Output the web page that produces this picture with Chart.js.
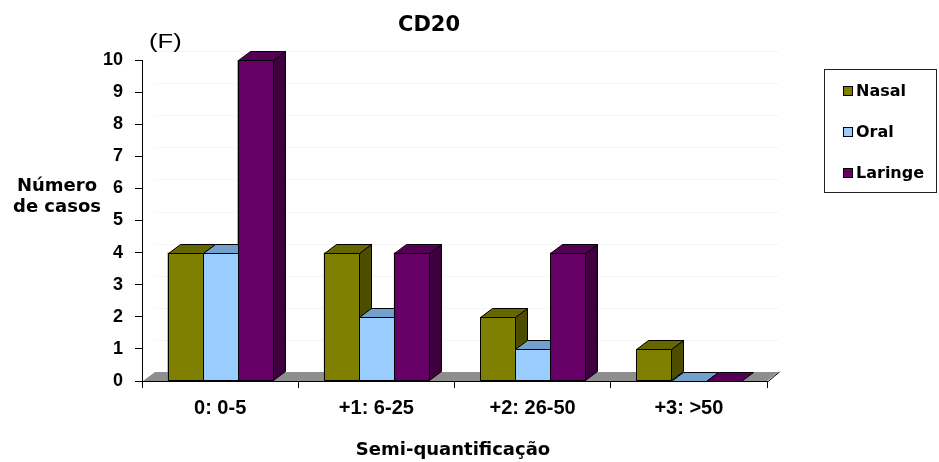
<!DOCTYPE html>
<html>
<head>
<meta charset="utf-8">
<script src="https://cdn.jsdelivr.net/npm/chart.js@4/dist/chart.umd.min.js"></script>
<style>
  html, body { margin: 0; padding: 0; background: #fff; }
  #wrap { width: 939px; height: 462px; }
</style>
</head>
<body>
<div id="wrap"><canvas id="c" width="939" height="462"></canvas></div>
<script>
// Semi-quantification categories and case counts per site
const categories = ['0: 0-5', '+1: 6-25', '+2: 26-50', '+3: >50'];
const nasal   = [4, 4, 2, 1];
const oral    = [4, 2, 1, 0];
const laringe = [10, 4, 4, 0];
const yTicks  = [0, 1, 2, 3, 4, 5, 6, 7, 8, 9, 10];

// Face colours for the pseudo-3D bars: front, top, side
const palette = {
  Nasal:   { front: '#808000', top: '#676700', side: '#4d4d00' },
  Oral:    { front: '#99ccff', top: '#73a0cc', side: '#6b95bf' },
  Laringe: { front: '#660066', top: '#540054', side: '#3d003d' }
};
const DX = 12, DY = 9; // depth offset of the 3D faces

const bar3d = {
  id: 'bar3d',
  beforeDatasetsDraw(chart) {
    const { ctx, chartArea: a, scales } = chart;
    ctx.save();
    // faint gridlines on the back wall
    ctx.strokeStyle = '#f6f6f6';
    ctx.lineWidth = 1;
    yTicks.forEach(v => {
      if (v === 0) return;
      const y = Math.round(scales.y.getPixelForValue(v)) - DY + 0.5;
      ctx.beginPath();
      ctx.moveTo(a.left + DX, y);
      ctx.lineTo(a.right + DX, y);
      ctx.stroke();
    });
    // grey floor
    const b = scales.y.getPixelForValue(0);
    ctx.fillStyle = '#8e8e8e';
    ctx.beginPath();
    ctx.moveTo(a.left + 1, b);
    ctx.lineTo(a.left + 1 + DX, b - DY);
    ctx.lineTo(a.right + DX, b - DY);
    ctx.lineTo(a.right, b);
    ctx.closePath();
    ctx.fill();
    ctx.strokeStyle = '#000';
    ctx.beginPath();
    ctx.moveTo(a.right + 0.5, b + 1);
    ctx.lineTo(a.right + DX + 0.5, b - DY);
    ctx.stroke();
    ctx.restore();
  },
  afterDatasetsDraw(chart) {
    const { ctx } = chart;
    const bars = [];
    chart.data.datasets.forEach((ds, i) => {
      const meta = chart.getDatasetMeta(i);
      meta.data.forEach(el => bars.push({ el, col: palette[ds.label] }));
    });
    bars.sort((p, q) => p.el.x - q.el.x);
    ctx.save();
    ctx.lineWidth = 1;
    ctx.strokeStyle = '#000';
    ctx.lineJoin = 'round';
    bars.forEach(({ el, col }) => {
      const l = Math.round(el.x - el.width / 2) + 0.5;
      const r = Math.round(el.x + el.width / 2) + 0.5;
      const t = Math.round(el.y) + 0.5;
      const bo = Math.round(el.base) - 0.5;
      // side face
      if (bo > t) {
        ctx.fillStyle = col.side;
        ctx.beginPath();
        ctx.moveTo(r, t); ctx.lineTo(r + DX, t - DY);
        ctx.lineTo(r + DX, bo - DY); ctx.lineTo(r, bo);
        ctx.closePath(); ctx.fill(); ctx.stroke();
      }
      // top face
      ctx.fillStyle = col.top;
      ctx.beginPath();
      ctx.moveTo(l, t); ctx.lineTo(l + DX, t - DY);
      ctx.lineTo(r + DX, t - DY); ctx.lineTo(r, t);
      ctx.closePath(); ctx.fill(); ctx.stroke();
      // front face
      if (bo > t) {
        ctx.fillStyle = col.front;
        ctx.fillRect(l, t, r - l, bo - t);
        ctx.strokeRect(l, t, r - l, bo - t);
      }
    });
    ctx.restore();
  },
  afterDraw(chart) {
    const { ctx } = chart;
    ctx.save();
    ctx.fillStyle = '#000';
    ctx.textBaseline = 'alphabetic';
    // title
    ctx.font = 'bold 21px "DejaVu Sans"';
    ctx.textAlign = 'center';
    ctx.fillText('CD20', 429, 31);
    // panel letter (slightly wide lettering)
    ctx.save();
    ctx.font = '21px "Liberation Sans"';
    ctx.textAlign = 'left';
    ctx.translate(149, 48);
    ctx.scale(1.22, 1);
    ctx.fillText('(F)', 0, 0);
    ctx.restore();
    // y axis title (horizontal, two lines)
    ctx.font = 'bold 18px "DejaVu Sans"';
    ctx.textAlign = 'center';
    ctx.fillText('Número', 57, 191);
    ctx.fillText('de casos', 57, 212);
    // x axis title
    ctx.fillText('Semi-quantificação', 453, 455);
    // legend box
    ctx.strokeStyle = '#222';
    ctx.lineWidth = 1;
    ctx.strokeRect(824.5, 69.5, 112, 123);
    ctx.font = 'bold 16px "DejaVu Sans"';
    ctx.textAlign = 'left';
    const baselines = [96, 137, 178];
    chart.data.datasets.forEach((ds, i) => {
      const yb = baselines[i];
      ctx.fillStyle = palette[ds.label].front;
      ctx.fillRect(843.5, yb - 9.5, 9, 9);
      ctx.strokeStyle = '#000';
      ctx.strokeRect(843.5, yb - 9.5, 9, 9);
      ctx.fillStyle = '#000';
      ctx.fillText(ds.label, 856, yb);
    });
    ctx.restore();
  }
};

new Chart(document.getElementById('c'), {
  type: 'bar',
  data: {
    labels: categories,
    datasets: [
      { label: 'Nasal',   data: nasal,   backgroundColor: palette.Nasal.front },
      { label: 'Oral',    data: oral,    backgroundColor: palette.Oral.front },
      { label: 'Laringe', data: laringe, backgroundColor: palette.Laringe.front }
    ]
  },
  options: {
    responsive: false,
    animation: false,
    events: [],
    layout: { padding: { top: 60, right: 172, left: 0, bottom: 0 } },
    datasets: { bar: { categoryPercentage: 0.673, barPercentage: 1, borderWidth: 0 } },
    plugins: { legend: { display: false }, title: { display: false }, tooltip: { enabled: false } },
    scales: {
      x: {
        afterFit(s) { s.height = 81; },
        grid: { display: true, drawOnChartArea: false, offset: true, color: '#000', tickLength: 7 },
        border: { display: true, color: '#000', width: 1 },
        ticks: { color: '#000', padding: 8, font: { family: '"Liberation Sans"', size: 20, weight: 'bold' } }
      },
      y: {
        min: 0, max: 10,
        afterFit(s) { s.width = 142; },
        afterBuildTicks(s) { s.ticks = yTicks.map(v => ({ value: v })); },
        grid: { display: true, drawOnChartArea: false, color: '#000', tickLength: 7 },
        border: { display: true, color: '#000', width: 1 },
        ticks: { color: '#000', padding: 12, font: { family: '"Liberation Sans"', size: 18, weight: 'bold' } }
      }
    }
  },
  plugins: [bar3d]
});
</script>
</body>
</html>
